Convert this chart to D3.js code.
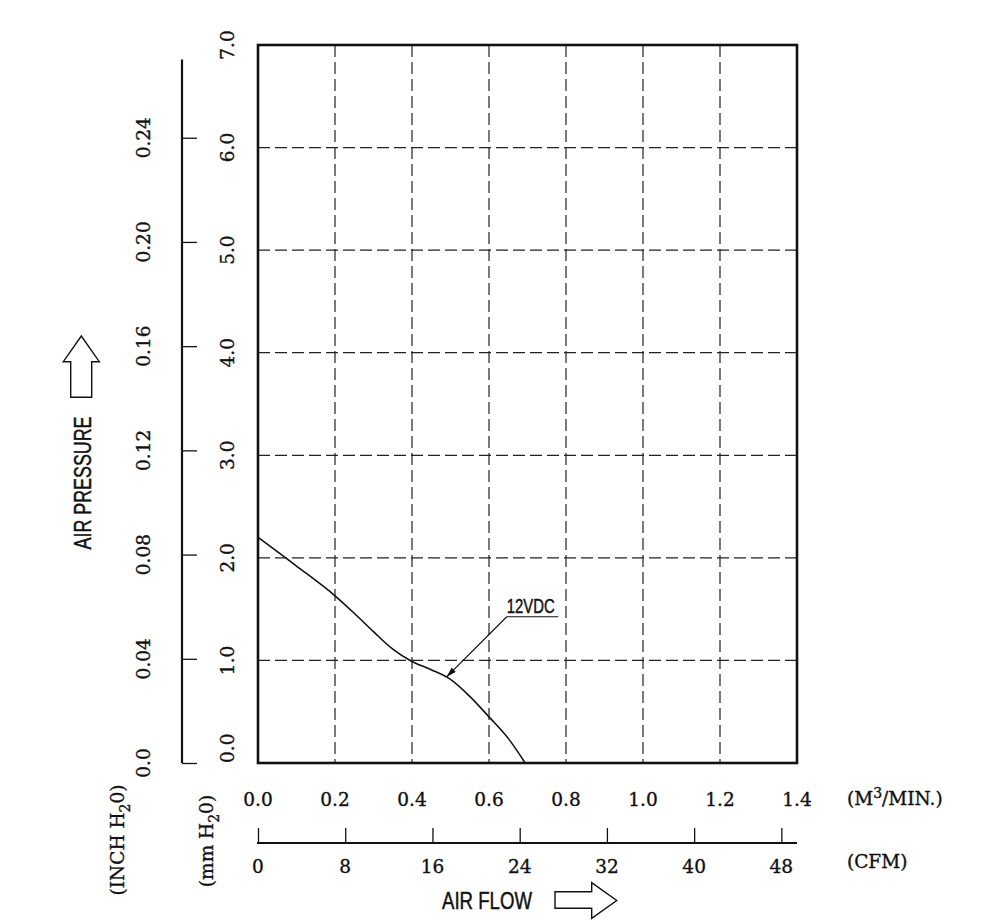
<!DOCTYPE html>
<head>
  <meta charset="utf-8">
  <script src="https://d3js.org/d3.v7.min.js"></script>
  <style>
    body { margin: 0; background: #fff; }
    .num { font-family: "DejaVu Serif", "Liberation Serif", serif; font-size: 18.5px; fill: #111; stroke: #111; stroke-width: 0.35; }
    .cap { font-family: "Liberation Sans", Arial, sans-serif; fill: #111; stroke: #111; stroke-width: 0.45; }
    .grid line { stroke: #222; stroke-width: 1.2; stroke-dasharray: 12,5; }
    .tick line { stroke: #111; stroke-width: 1.3; }
  </style>
</head>

<body>
  <script>

    // Données (débit en m3/min, pression en mm H2O)
    var flowM3 = [0, 0.1, 0.2, 0.25, 0.3, 0.35, 0.4, 0.45, 0.5, 0.55, 0.6, 0.65, 0.694];
    var pressMm = [2.2, 1.92, 1.63, 1.46, 1.28, 1.11, 0.99, 0.91, 0.815, 0.65, 0.45, 0.24, 0];
    var curveName = "12VDC";

    // Graduations
    var xTicks = [0, 0.2, 0.4, 0.6, 0.8, 1.0, 1.2, 1.4];
    var mmTicks = [0, 1, 2, 3, 4, 5, 6, 7];
    var inchTicks = [0, 0.04, 0.08, 0.12, 0.16, 0.20, 0.24];
    var cfmTicks = [0, 8, 16, 24, 32, 40, 48];

    // Note 12VDC : point de la courbe visé, départ du trait
    var notePoint = [0.49, 0.84];
    var noteStart = [0.646, 1.426];
    var noteEnd = 0.78;

    var w = 1000;
    var h = 921;
    var MM_PER_INCH = 25.4;
    var CFM_PER_M3 = 35.31;

    var svg = d3.select("body")
        .append("svg")
        .attr("width", w)
        .attr("height", h);

    var xScale = d3.scaleLinear().domain([0, 1.4]).range([258, 797]);
    var yScale = d3.scaleLinear().domain([0, 7]).range([763, 45]);
    var inchScale = d3.scaleLinear().domain([0, 7 / MM_PER_INCH]).range([763, 45]);
    var cfmScale = d3.scaleLinear().domain([0, 1.4 * CFM_PER_M3]).range([258, 797]);

    // Grille en pointillés
    var grid = svg.append("g").attr("class", "grid");
    grid.selectAll("line.v")
        .data(xTicks.slice(1, -1))
        .enter().append("line")
        .attr("class", "v")
        .attr("x1", function(d) { return xScale(d); })
        .attr("x2", function(d) { return xScale(d); })
        .attr("y1", yScale(7))
        .attr("y2", yScale(0));
    grid.selectAll("line.h")
        .data(mmTicks.slice(1, -1))
        .enter().append("line")
        .attr("class", "h")
        .attr("x1", xScale(0))
        .attr("x2", xScale(1.4))
        .attr("y1", function(d) { return yScale(d); })
        .attr("y2", function(d) { return yScale(d); });

    // Cadre
    svg.append("rect")
        .attr("x", xScale(0))
        .attr("y", yScale(7))
        .attr("width", xScale(1.4) - xScale(0))
        .attr("height", yScale(0) - yScale(7))
        .attr("fill", "none")
        .attr("stroke", "#111")
        .attr("stroke-width", 2.6);

    // Courbe
    var line = d3.line()
        .x(function(d, i) { return xScale(flowM3[i]); })
        .y(function(d, i) { return yScale(pressMm[i]); })
        .curve(d3.curveMonotoneX);
    svg.append("path")
        .datum(pressMm)
        .attr("d", line)
        .attr("fill", "none")
        .attr("stroke", "#111")
        .attr("stroke-width", 1.6);

    // Annotation 12VDC
    svg.append("defs").append("marker")
        .attr("id", "head")
        .attr("viewBox", "0 0 10 6")
        .attr("refX", 10)
        .attr("refY", 3)
        .attr("markerWidth", 11)
        .attr("markerHeight", 6)
        .attr("markerUnits", "userSpaceOnUse")
        .attr("orient", "auto")
        .append("path")
        .attr("d", "M0,0L10,3L0,6Z")
        .attr("fill", "#111");
    svg.append("line")
        .attr("x1", xScale(noteEnd))
        .attr("y1", yScale(noteStart[1]))
        .attr("x2", xScale(noteStart[0]))
        .attr("y2", yScale(noteStart[1]))
        .attr("stroke", "#111")
        .attr("stroke-width", 1.2);
    svg.append("line")
        .attr("x1", xScale(noteStart[0]))
        .attr("y1", yScale(noteStart[1]))
        .attr("x2", xScale(notePoint[0]))
        .attr("y2", yScale(notePoint[1]))
        .attr("stroke", "#111")
        .attr("stroke-width", 1.2)
        .attr("marker-end", "url(#head)");
    svg.append("text")
        .attr("class", "cap")
        .attr("x", xScale(noteStart[0]))
        .attr("y", yScale(noteStart[1]) - 4)
        .attr("font-size", 20)
        .attr("textLength", 48)
        .attr("lengthAdjust", "spacingAndGlyphs")
        .text(curveName);

    // Axe mm H2O (étiquettes tournées)
    svg.selectAll("text.mm")
        .data(mmTicks)
        .enter().append("text")
        .attr("class", "num mm")
        .attr("transform", function(d) { return "translate(227," + yScale(d) + ") rotate(-90)"; })
        .attr("text-anchor", function(d) { return d === 0 ? "start" : "middle"; })
        .attr("dy", "0.36em")
        .text(function(d) { return d3.format(".1f")(d); });

    // Axe INCH H2O
    var inchAxis = d3.axisRight(inchScale)
        .tickValues(inchTicks)
        .tickSize(15)
        .tickFormat("");
    var gInch = svg.append("g")
        .attr("transform", "translate(182,0)")
        .call(inchAxis);
    gInch.select(".domain").remove();
    gInch.append("line")
        .attr("y1", inchScale(0.27))
        .attr("y2", inchScale(0))
        .attr("stroke", "#111")
        .attr("stroke-width", 2.2);
    svg.selectAll("text.inch")
        .data(inchTicks)
        .enter().append("text")
        .attr("class", "num inch")
        .attr("transform", function(d) { return "translate(143," + inchScale(d) + ") rotate(-90)"; })
        .attr("text-anchor", "middle")
        .attr("dy", "0.36em")
        .text(function(d) { return d === 0 ? "0.0" : d3.format(".2f")(d); });

    // Axe des débits en m3/min
    svg.selectAll("text.xlab")
        .data(xTicks)
        .enter().append("text")
        .attr("class", "num xlab")
        .attr("x", function(d) { return xScale(d); })
        .attr("y", 799)
        .attr("dy", "0.36em")
        .attr("text-anchor", "middle")
        .text(function(d) { return d3.format(".1f")(d); });

    // Axe CFM
    var cfmAxis = d3.axisTop(cfmScale)
        .tickValues(cfmTicks)
        .tickSize(15)
        .tickFormat("");
    var gCfm = svg.append("g")
        .attr("transform", "translate(0,843)")
        .call(cfmAxis);
    gCfm.select(".domain").remove();
    gCfm.append("line")
        .attr("x1", cfmScale.range()[0] - 1)
        .attr("x2", cfmScale.range()[1])
        .attr("stroke", "#111")
        .attr("stroke-width", 2.2);
    svg.selectAll("text.cfm")
        .data(cfmTicks)
        .enter().append("text")
        .attr("class", "num cfm")
        .attr("x", function(d) { return cfmScale(d); })
        .attr("y", 866)
        .attr("dy", "0.36em")
        .attr("text-anchor", "middle")
        .text(function(d) { return d; });

    // Unités
    var m3 = svg.append("text")
        .attr("class", "num")
        .attr("x", 847)
        .attr("y", 805);
    m3.append("tspan").text("(M");
    m3.append("tspan").attr("dy", -7).attr("font-size", 14).text("3");
    m3.append("tspan").attr("dy", 7).text("/MIN.)");

    svg.append("text")
        .attr("class", "num")
        .attr("x", 847)
        .attr("y", 868)
        .text("(CFM)");

    function waterLabel(x, y, word) {
        var t = svg.append("text")
            .attr("class", "num")
            .attr("transform", "translate(" + x + "," + y + ") rotate(-90)")
            .attr("text-anchor", "middle")
            .attr("dy", "0.36em")
            .attr("font-size", 19.5);
        t.append("tspan").text("(" + word + " H");
        t.append("tspan").attr("dy", 6).attr("font-size", 14).text("2");
        t.append("tspan").attr("dy", -6).text("0)");
    }
    waterLabel(117, 840, "INCH");
    waterLabel(206, 841, "mm");

    // Titres et flèches
    svg.append("text")
        .attr("class", "cap")
        .attr("transform", "translate(83,483) rotate(-90)")
        .attr("text-anchor", "middle")
        .attr("dy", "0.36em")
        .attr("font-size", 23)
        .attr("textLength", 133)
        .attr("lengthAdjust", "spacingAndGlyphs")
        .text("AIR PRESSURE");

    svg.append("text")
        .attr("class", "cap")
        .attr("x", 442)
        .attr("y", 909)
        .attr("font-size", 23)
        .attr("textLength", 90)
        .attr("lengthAdjust", "spacingAndGlyphs")
        .text("AIR FLOW");

    svg.append("path")
        .attr("d", "M81.3,336L99.3,361.7L91.7,361.7L91.7,397.3L70.7,397.3L70.7,361.7L63.3,361.7Z")
        .attr("fill", "#fff")
        .attr("stroke", "#111")
        .attr("stroke-width", 1.4);

    svg.append("path")
        .attr("d", "M555,891.7L591.7,891.7L591.7,882.7L616.7,900.5L591.7,918.3L591.7,908.3L555,908.3Z")
        .attr("fill", "#fff")
        .attr("stroke", "#111")
        .attr("stroke-width", 1.4);

</script>
</body>
